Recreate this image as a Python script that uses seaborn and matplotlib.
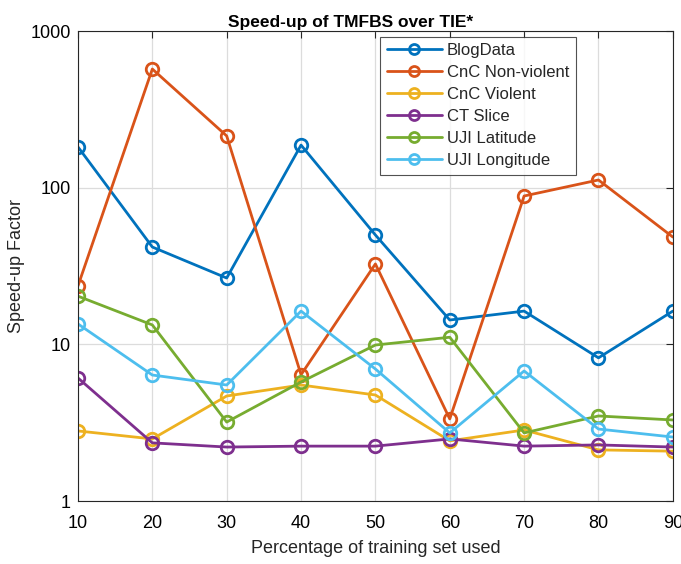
import numpy as np
import pandas as pd
import matplotlib
matplotlib.use("Agg")
import matplotlib.pyplot as plt
import seaborn as sns

# Data
pct = [10, 20, 30, 40, 50, 60, 70, 80, 90]
blog_data = [182, 41.8, 26.5, 187, 49.9, 14.3, 16.3, 8.2, 16.3]
cnc_nonviolent = [23.6, 572, 214, 6.4, 32.6, 3.34, 88.5, 112, 48.4]
cnc_violent = [2.8, 2.49, 4.68, 5.5, 4.75, 2.42, 2.84, 2.12, 2.08]
ct_slice = [6.1, 2.35, 2.21, 2.24, 2.24, 2.49, 2.24, 2.28, 2.21]
uji_latitude = [20.3, 13.3, 3.19, 5.75, 9.9, 11.1, 2.72, 3.49, 3.29]
uji_longitude = [13.5, 6.37, 5.5, 16.3, 6.96, 2.72, 6.76, 2.88, 2.56]

series_names = ["BlogData", "CnC Non-violent", "CnC Violent",
                "CT Slice", "UJI Latitude", "UJI Longitude"]
series_values = [blog_data, cnc_nonviolent, cnc_violent,
                 ct_slice, uji_latitude, uji_longitude]
colors = ["#0072BD", "#D95319", "#EDB120", "#7E2F8E", "#77AC30", "#4DBEEE"]

sns.set_style("white")
plt.rcParams["font.family"] = ["Liberation Sans", "DejaVu Sans"]

fig = plt.figure(figsize=(6.81, 5.64), dpi=100)
ax = fig.add_axes([0.1145, 0.1117, 0.8735, 0.8333])

for name, vals, c in zip(series_names, series_values, colors):
    df = pd.DataFrame({"pct": pct, "val": vals})
    sns.lineplot(data=df, x="pct", y="val", ax=ax, color=c, linewidth=2,
                 marker="o", markersize=9, markerfacecolor="none",
                 markeredgecolor=c, markeredgewidth=2, label=name)

ax.set_yscale("log")
ax.set_ylim(1, 1000)
ax.set_xlim(10, 90)
ax.set_xticks(pct)
ax.set_yticks([1, 10, 100, 1000])
ax.set_yticklabels(["1", "10", "100", "1000"])
ax.minorticks_off()
ax.grid(True, color="#dcdcdc", linewidth=0.9)
ax.set_axisbelow(True)
for s in ax.spines.values():
    s.set_color("#262626")
    s.set_linewidth(0.8)
ax.tick_params(direction="in", length=5, width=0.8, colors="#262626",
               labelcolor="black", labelsize=13, top=True, right=True)
ax.tick_params(axis="x", pad=10)
ax.tick_params(axis="y", pad=5)

ax.set_xlabel("Percentage of training set used", fontsize=13, labelpad=6)
ax.set_ylabel("Speed-up Factor", fontsize=13)
ax.set_title("Speed-up of TMFBS over TIE*", fontsize=12.5, fontweight="bold",
             color="black", x=0.459, pad=3)

leg = ax.legend(loc="upper left", bbox_to_anchor=(0.508, 0.988), fontsize=12,
                frameon=True, fancybox=False, edgecolor="#262626",
                handlelength=3.3, handletextpad=0.3, markerscale=0.8,
                borderpad=0.4, labelspacing=0.42, borderaxespad=0)
leg.get_frame().set_linewidth(0.8)

fig.savefig("out.png", dpi=100)
